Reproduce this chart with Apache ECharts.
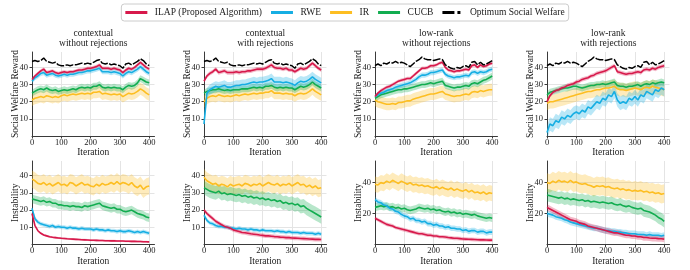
<!DOCTYPE html>
<html><head><meta charset="utf-8">
<script src="https://cdn.jsdelivr.net/npm/echarts@6/dist/echarts.min.js"></script>
<style>html,body{margin:0;padding:0;background:#fff}#c{width:690px;height:270px}</style>
</head><body><div id="c"></div>
<script>
// ---------------- DATA ----------------
const iterations = [0,10,20,30,40,50,60,70,80,90,100,110,120,130,140,150,160,170,180,190,200,210,220,230,240,250,260,270,280,290,300,310,320,330,340,350,360,370,380,390,400];
const xTicks = [0,100,200,300,400];
const rewardTicks = [10,20,30,40];
const instabTicksCtx = [10,20,30,40];
const instabTicksLow = [20,40];
const methodNames = ['ILAP (Proposed Algorithm)','RWE','IR','CUCB'];
const optimumName = 'Optimum Social Welfare';
const panelTitles = ['contextual\nwithout rejections','contextual\nwith rejections','low-rank\nwithout rejections','low-rank\nwith rejections'];

// optimum social welfare
const optContextual = [43.5,44,43.5,44,45.5,43.5,43,42.5,43,41.5,41,41,41.5,41,41.5,41.5,42,42.5,42,42.5,42,43,44,44.5,42.5,42,42.5,41.5,42,41.5,41,39.5,42,42.5,41.5,42.5,43.5,45,44,42,41];
const optLowRank = [41,42,41,42.5,42,43,42.5,43.5,42.5,43,42.5,41.5,40.5,42,43.5,44.5,46,45,44.5,44.5,44,44.5,45,44.5,41.5,40.5,39.5,39,40,39.5,40.5,41,40,43,43.5,41.5,43,41.5,42,43,44];

// reward: contextual without rejections
const rwCtxNo_ILAP = [33,35,36.5,38,39,37,37.5,38,37,36.5,37,37.5,37,37.5,37.5,38,38.5,38.5,39,39.5,39.5,40,40.5,41.5,39.5,39.5,39.5,39,39.5,39,38.5,37,38.5,39.5,39,40,41.5,43,41.5,40,39];
const rwCtxNo_RWE = [32,34,35,36.5,37,35.5,36,36.5,35.5,35,35.5,36,35.5,36,36,36.5,37,37,37.5,38,38,38.5,39,39.5,37.5,37.5,37.5,37,37.5,37,36.5,35,36.5,37.5,37,38,39,40.5,39,37.5,36.5];
const rwCtxNo_IR = [21,22,22.5,23,22.5,23.5,23,22.5,23,22.5,23.5,24,23.5,24,24.5,24,24.5,25,24.5,25,24.5,25.5,25.5,26,24.5,25,24.5,24,24.5,24,24.5,23,24,25,24.5,25,26,27.5,26.5,25,24];
const rwCtxNo_CUCB = [25,26,27,27.5,27,28,27,26.5,27,26,26.5,27,26.5,27,27.5,27,28,28.5,28,28.5,28,29,29,30,28.5,28,28.5,28,28.5,28,28,27,28.5,29.5,29,29.5,31,33.5,32.5,31.5,31];
// reward: contextual with rejections
const rwCtxRej_ILAP = [32,35,36.5,37.5,39,37,37.5,38,37,37,37,37.5,37,37.5,37.5,38,38,38.5,39,39,39,39.5,40.5,41.5,40,39.5,39.5,39,39.5,38.5,38.5,37.5,38.5,39.5,39,39.5,41,42.5,41,39.5,38.5];
const rwCtxRej_RWE = [7,25,27,28,29,28.5,29,29.5,28.5,28.5,29,29.5,29.5,30,30,30.5,31,31.5,31,31.5,31.5,32,32.5,33.5,31.5,31.5,31.5,31,31.5,31,30.5,29.5,31,32,31.5,32,33,34.5,33,32,31];
const rwCtxRej_IR = [20,22,23,23.5,23,24,23.5,23,23.5,23,23.5,24,23.5,24,24.5,24,24.5,25,24.5,25,25,25.5,25.5,26.5,25,25,25,24.5,25,24.5,24.5,23.5,24.5,25,24.5,25,26,27.5,26,25,24];
const rwCtxRej_CUCB = [25,26,26.5,27,27,27.5,27,26.5,27,26.5,27,27,27,27.5,27.5,27.5,28,28.5,28,28.5,28,29,29,29.5,28.5,28,28.5,28,28.5,28,28,27,28,29,28.5,29,30,31.5,30,29,28];
// reward: low-rank without rejections
const rwLowNo_ILAP = [23,25,26.5,27.5,28.5,29,30,31,32,32.5,33,33.5,33.5,35,36.5,38,39.5,39.5,40,41,41,41.5,42.5,43,40,38.5,38,37.5,38,38,38.5,39,38.5,41,41.5,40,41.5,40.5,41,42,42.5];
const rwLowNo_RWE = [23,24,25,25.5,26.5,27,27.5,28.5,29,29.5,30,30.5,31,32,33,34.5,35.5,35.5,36,37,37,37.5,38,38.5,36,35,34.5,34,34.5,34.5,35,35.5,35,37,37.5,36.5,37.5,37,37.5,38.5,39];
const rwLowNo_IR = [21,20,19.5,19,18.5,18.5,19,18.5,19.5,19.5,20,20.5,20.5,21.5,22,22.5,23,23.5,24,24.5,24.5,25,25.5,26,24.5,24,23.5,23,23.5,23.5,24,24.5,24,25.5,26,25.5,26.5,26,26.5,27,27];
const rwLowNo_CUCB = [22,23,24,24.5,25,25.5,26,26.5,27,27,27.5,27.5,28,28.5,29,29.5,30,30,30.5,31,30.5,31,31.5,32,29.5,29,28.5,28,28.5,28.5,29,29.5,29,30.5,31,30.5,31.5,32.5,33,34,35];
// reward: low-rank with rejections
const rwLowRej_ILAP = [20,23.5,25.5,26.5,27,28,28.5,29.5,30,30.5,31.5,32,33,33.5,34,35,35.5,36.5,37,37.5,38,39,40,41,37.5,37,36.5,36,36.5,36.5,37,37.5,37,38.5,39,38.5,39.5,39,40,40.5,41];
const rwLowRej_RWE = [2,7,6,9,8,11,10,12,11,13,14,13,15,14,17,16,18,20,19,22,21,24,23,26,21,19,20,19,22,21,23,21,24,23,26,25,24,27,26,28,27];
const rwLowRej_IR = [19,20,20,20.5,21,21.5,22,22.5,23,23.5,24,24.5,25,25.5,26,26,26.5,27,27,27.5,28,28,28.5,29,27.5,27,27,26.5,27,27.5,28,27.5,27,28,28.5,28,29,28.5,28,27.5,27];
const rwLowRej_CUCB = [24,25.5,26,26.5,27,27.5,28,28,28.5,29,29,28.5,28,28.5,29,29.5,29.5,30,30,30.5,30,30.5,31,31.5,29.5,29,29,28.5,29,29,29.5,30,29,30,30.5,30,31,30.5,31,31.5,31];

// instability: contextual without rejections
const inCtxNo_ILAP = [18,11,8,6.5,5.5,5,4.5,4.2,4,3.8,3.6,3.5,3.3,3.2,3.1,3,2.9,2.8,2.7,2.6,2.5,2.5,2.4,2.3,2.3,2.2,2.2,2.1,2.1,2,2,2,1.9,1.9,1.8,1.8,1.7,1.7,1.6,1.6,1.5];
const inCtxNo_RWE = [21,15,13,12,11.5,11,10.5,11,10,10.5,10,10,9.5,10,9.5,9.5,9,9.5,9,9,9,8.5,9,8.5,8.5,8,8.5,8,8,7.5,8,7.5,7.5,8,7.5,7,7.5,7,7.5,7,6.5];
const inCtxNo_IR = [38,37,35.5,35,36,34.5,35.5,34,35,36,34.5,35,34,36,35.5,34,35,36,34.5,35,34,33.5,35,34,35.5,34.5,35,36,35,36.5,35,36,35.5,34.5,36,34,33,34.5,32,33.5,34];
const inCtxNo_CUCB = [26.5,26,25.5,25,25.5,24.5,25,24,24,23,23,22.5,22.5,22,22.5,22,22,21.5,22.5,22,22.5,23,23.5,24,22.5,22,21.5,21,21.5,20.5,20.5,19.5,19,19.5,20,19,18,17.5,17,16,15.5];
// instability: contextual with rejections
const inCtxRej_ILAP = [20,18,16.5,15,13.5,12.5,11.5,10.5,10,9.5,8.5,8,7.5,7,6.8,6.5,6.2,6,5.8,5.5,5.3,5,5,4.8,4.6,4.5,4.3,4.2,4,4,3.8,3.7,3.6,3.5,3.4,3.3,3.2,3.1,3,3,2.9];
const inCtxRej_RWE = [17,14,12.5,12,11,10.5,10.5,10,10,9.5,9.5,9,9.5,9,9,8.5,9,8.5,8.5,8,8.5,8,8,8,7.5,8,7.5,7.5,7,7.5,7,7,7,6.5,7,6.5,6.5,6.5,6,6.5,6];
const inCtxRej_IR = [39,37,36,35,35.5,34,35,34.5,33.5,35,34,34.5,35,34,35.5,35,34,35,34.5,35.5,34,35,36,35,34.5,35.5,34,35,34.5,35.5,34,35,36,34.5,35,33.5,34.5,33,34,32.5,33];
const inCtxRej_CUCB = [33,32,31,30.5,30,31,29.5,30,29,29.5,29,28.5,29,28,28.5,27.5,28,27,27.5,26.5,27,26,26.5,25.5,26,25,25.5,24,24.5,23.5,24,23,23.5,22,22.5,21,20,19,18,17,16];
// instability: low-rank without rejections
const inLowNo_ILAP = [17,16,15,14,13,12.5,12,11,10.5,10,9.5,9,8.5,8,7.5,7,7,6.5,6,6,5.5,5.5,5,5,4.8,4.5,4.3,4,4,3.8,3.6,3.5,3.4,3.3,3.2,3.1,3,3,2.9,2.8,2.8];
const inLowNo_RWE = [29,27.5,27,25.5,25,23.5,23,21.5,21,19.5,18.5,18,16.5,17,15.5,15.5,14.5,15,13.5,13.5,12.5,13,12,12,11,11.5,10.5,10.5,10,10,9,9.5,8.5,9,9,8,8.5,8.5,7.5,8,8];
const inLowNo_IR = [39,38.5,40,39.5,41,40,41.5,40.5,39.5,41,40,39,40,38.5,39,38,38.5,37.5,38,37,36.5,37.5,36,37,36,35.5,36.5,35,36,35,34.5,35.5,34,35,33.5,34,33,34,32.5,33.5,33];
const inLowNo_CUCB = [24,24.5,25,24.5,25,24,24.5,23.5,24,23,23.5,22.5,22,22.5,23,24,23.5,23,23.5,22.5,23,22,22.5,21.5,21,21.5,20.5,21,20,20.5,19.5,20,19.5,19,19.5,18.5,18,17.5,17,17.5,17];
// instability: low-rank with rejections
const inLowRej_ILAP = [24,23,22,21,20,19,18,17,16,15.5,15,14,13.5,13,12,11.5,11,10.5,10,9.5,9,8.5,8,7.5,7.5,7,6.5,6,6,5.5,5.5,5,5,4.5,4.5,4.2,4,4,3.8,3.7,3.5];
const inLowRej_RWE = [20,19.5,19,18,17.5,17,16,15.5,14.5,14,13.5,13,12.5,12,11.5,11,10.5,10.5,10,9.5,9,9,8.5,8.5,8,8,7.5,7.5,7,7,7,6.5,6.5,6.5,6,6.5,6,6,6,5.5,6];
const inLowRej_IR = [40,39.5,41,40,41.5,40.5,41,40,41.5,40,40.5,39.5,39,39.5,38.5,38,37,38,37.5,38,37,37.5,36.5,36,36.5,35.5,36,35,35.5,34.5,35,34.5,35,34,34.5,33.5,34,33,33.5,32.5,33];
const inLowRej_CUCB = [32,31.5,31,30.5,30,30.5,29.5,30,29,29.5,29,28.5,29,28,28.5,27.5,28,27.5,27,27.5,27,26.5,27,26,25.5,26,25,24.5,25,24,23.5,23,23.5,22,21.5,21,20,19,17.5,16.5,15];

// band half-widths (ILAP, RWE, IR, CUCB)
const spreadRwCtxNo = [1,1.5,3.5,2];
const spreadRwCtxRej = [1.2,3,3.5,2];
const spreadRwLowNo = [1,1.5,3.5,2];
const spreadRwLowRej = [1.2,4,4,2];
const spreadInCtxNo = [0.6,1.2,5,2.5];
const spreadInCtxRej = [1.2,1.2,5,4];
const spreadInLowNo = [1.2,1.8,5,2.5];
const spreadInLowRej = [2,2,6,4];

// ---------------- CHART ----------------
const FONT = '"Liberation Serif","DejaVu Serif",serif';
const COLORS = ['#d7194b','#16aee3','#fdbe22','#12ad50'];
const colLeft = [32, 204, 375, 547];
const colWidth = 122.5;
const rowTop = [52, 161];
const rowHeight = [84, 83.5];

const panels = [
  {row:0,col:0,yMax:49,ticks:rewardTicks,yName:'Social Welfare Reward',lines:[rwCtxNo_ILAP,rwCtxNo_RWE,rwCtxNo_IR,rwCtxNo_CUCB],spread:spreadRwCtxNo,opt:optContextual},
  {row:0,col:1,yMax:49,ticks:rewardTicks,yName:'Social Welfare Reward',lines:[rwCtxRej_ILAP,rwCtxRej_RWE,rwCtxRej_IR,rwCtxRej_CUCB],spread:spreadRwCtxRej,opt:optContextual},
  {row:0,col:2,yMax:49,ticks:rewardTicks,yName:'Social Welfare Reward',lines:[rwLowNo_ILAP,rwLowNo_RWE,rwLowNo_IR,rwLowNo_CUCB],spread:spreadRwLowNo,opt:optLowRank},
  {row:0,col:3,yMax:49,ticks:rewardTicks,yName:'Social Welfare Reward',lines:[rwLowRej_ILAP,rwLowRej_RWE,rwLowRej_IR,rwLowRej_CUCB],spread:spreadRwLowRej,opt:optLowRank},
  {row:1,col:0,yMax:48.5,ticks:instabTicksCtx,yName:'Instability',lines:[inCtxNo_ILAP,inCtxNo_RWE,inCtxNo_IR,inCtxNo_CUCB],spread:spreadInCtxNo},
  {row:1,col:1,yMax:48.5,ticks:instabTicksCtx,yName:'Instability',lines:[inCtxRej_ILAP,inCtxRej_RWE,inCtxRej_IR,inCtxRej_CUCB],spread:spreadInCtxRej},
  {row:1,col:2,yMax:54,ticks:instabTicksLow,yName:'Instability',lines:[inLowNo_ILAP,inLowNo_RWE,inLowNo_IR,inLowNo_CUCB],spread:spreadInLowNo},
  {row:1,col:3,yMax:54,ticks:instabTicksLow,yName:'Instability',lines:[inLowRej_ILAP,inLowRej_RWE,inLowRej_IR,inLowRej_CUCB],spread:spreadInLowRej}
];

const grids = [], xAxes = [], yAxes = [], series = [], graphics = [];
const axisColor = '#3a3a3a', gridColor = '#e4e4e4';
const drawOrder = [2,3,1,0]; // IR, CUCB, RWE, ILAP

function bandSeries(i, mean, s, color) {
  const lo = mean.map(v => v - s), hi = mean.map(v => v + s);
  return {
    type:'custom', xAxisIndex:i, yAxisIndex:i, silent:true, z:1, clip:true,
    encode:{x:0, y:[1,2]},
    data: iterations.map((x,k) => [x, lo[k], hi[k]]),
    renderItem: function(params, api) {
      if (params.dataIndex !== 0) return null;
      const pts = [];
      for (let k = 0; k < iterations.length; k++) pts.push(api.coord([iterations[k], hi[k]]));
      for (let k = iterations.length - 1; k >= 0; k--) pts.push(api.coord([iterations[k], lo[k]]));
      return {type:'polygon', shape:{points:pts}, style:{fill:color, opacity:0.3}};
    }
  };
}

panels.forEach((p, i) => {
  grids.push({left: colLeft[p.col], top: rowTop[p.row], width: colWidth, height: rowHeight[p.row]});
  xAxes.push({
    type:'value', gridIndex:i, min:0, max:418,
    name:'Iteration', nameLocation:'middle', nameGap:11,
    nameTextStyle:{fontFamily:FONT, fontSize:9.5, color:'#222'},
    axisLine:{show:true, onZero:false, lineStyle:{color:axisColor, width:1}},
    axisTick:{show:true, length:2.5, customValues:xTicks, lineStyle:{color:axisColor}},
    axisLabel:{customValues:xTicks, fontFamily:FONT, fontSize:8.5, color:'#222', margin:2},
    splitLine:{show:true, lineStyle:{color:gridColor, width:1}}
  });
  yAxes.push({
    type:'value', gridIndex:i, min:0, max:p.yMax,
    name:p.yName, nameLocation:'middle', nameGap:12, nameMoveOverlap:false,
    nameTextStyle:{fontFamily:FONT, fontSize:9.5, color:'#222'},
    axisLine:{show:true, onZero:false, lineStyle:{color:axisColor, width:1}},
    axisTick:{show:true, length:2.5, customValues:p.ticks, lineStyle:{color:axisColor}},
    axisLabel:{customValues:p.ticks, fontFamily:FONT, fontSize:8.5, color:'#222', margin:4},
    splitLine:{show:true, lineStyle:{color:gridColor, width:1}}
  });
  drawOrder.forEach(m => series.push(bandSeries(i, p.lines[m], p.spread[m], COLORS[m])));
  drawOrder.forEach(m => {
    series.push({type:'line', name:methodNames[m], xAxisIndex:i, yAxisIndex:i, symbol:'none', showSymbol:false, silent:true, z:3,
      color:COLORS[m], lineStyle:{color:COLORS[m], width:1.6},
      data: iterations.map((x,k)=>[x, p.lines[m][k]])});
  });
  if (p.opt) {
    series.push({type:'line', name:optimumName, xAxisIndex:i, yAxisIndex:i, symbol:'none', showSymbol:false, silent:true, z:4,
      color:'#000', lineStyle:{color:'#000', width:1.5, type:[8,1.5]},
      data: iterations.map((x,k)=>[x, p.opt[k]])});
  }
  if (p.row === 0) {
    graphics.push({type:'text', x: colLeft[p.col] + colWidth/2, y: 38.5, silent:true,
      style:{text: panelTitles[p.col], align:'center', verticalAlign:'middle', fontFamily:FONT, fontSize:9.5, lineHeight:10.5, fill:'#222'}});
  }
});

const chart = echarts.init(document.getElementById('c'), null, {renderer:'canvas'});
chart.setOption({
  animation:false,
  backgroundColor:'#fff',
  grid: grids, xAxis: xAxes, yAxis: yAxes, series: series, graphic: graphics,
  legend: {
    data: [
      {name:methodNames[0], icon:'rect'},{name:methodNames[1], icon:'rect'},{name:methodNames[2], icon:'rect'},{name:methodNames[3], icon:'rect'},
      {name:optimumName, icon:'path://M0,0h12v3h-12zM15,0h3v3h-3z'}
    ],
    left:'center', top:4, itemWidth:22, itemHeight:3, itemGap:9,
    padding:[3.5,4], borderColor:'#cccccc', borderWidth:1, borderRadius:3,
    selectedMode:false,
    textStyle:{fontFamily:FONT, fontSize:9.5, color:'#222', lineHeight:10, padding:[0,0,0,2.5]}
  }
});
</script>
</body></html>
